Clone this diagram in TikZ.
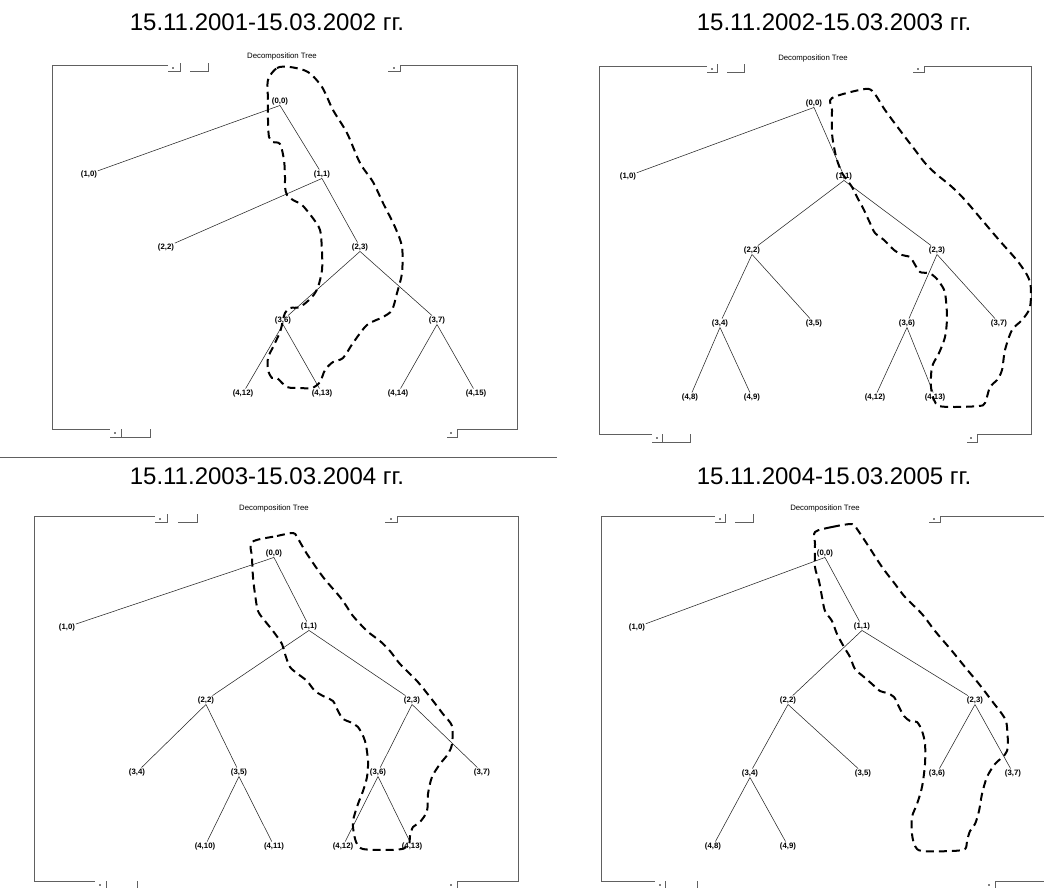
\documentclass[tikz,border=0pt]{standalone}
\usepackage{fontspec}
\setmainfont{Liberation Sans}

\begin{document}
\begin{tikzpicture}[x=1pt, y=-1pt,
  ttl/.style={font=\fontsize{24}{28}\selectfont},
  hdr/.style={font=\fontsize{7.8}{9}\selectfont},
  lbl/.style={font=\fontsize{7.8}{9}\selectfont\bfseries, inner sep=0.6pt},
  br/.style={line width=0.55pt, black!85},
  frm/.style={line width=0.9pt, gray!75!black},
  cut/.style={line width=2pt, dash pattern=on 8pt off 5pt, line join=round}]
  \clip (0,0) rectangle (1044,888);

  % Separator
  \draw[frm] (0,457) -- (557,457);

  % --- PANEL 1: 2001-2002 ---
  \node[ttl] at (267,22) {15.11.2001-15.03.2002 гг.};
  \node[hdr] at (282,56) {Decomposition Tree};
  % Frame
  \draw[frm] (168,65) -- (52,65) -- (52,429) -- (110,429);
  \draw[frm] (168,71) -- (180,71) -- (180,63);
  \draw[frm] (190,71) -- (208,71) -- (208,63);
  \draw[frm] (388,71) -- (400,71) -- (400,65) -- (517,65) -- (517,429) -- (457,429) -- (457,437) -- (447,437);
  \draw[frm] (110,437) -- (121,437) -- (121,429);
  \draw[frm] (121,437) -- (150,437) -- (150,429);
  \fill[black] (173,68) circle (0.9) (394,68) circle (0.9) (115,433) circle (0.9) (451,433) circle (0.9);
  % Nodes
  \node[lbl] (a00) at (280,101) {(0,0)};
  \node[lbl] (a10) at (89,174) {(1,0)};
  \node[lbl] (a11) at (322,174) {(1,1)};
  \node[lbl] (a22) at (166,247) {(2,2)};
  \node[lbl] (a23) at (360,247) {(2,3)};
  \node[lbl] (a36) at (283,320) {(3,6)};
  \node[lbl] (a37) at (437,320) {(3,7)};
  \node[lbl] (a412) at (243,393) {(4,12)};
  \node[lbl] (a413) at (322,393) {(4,13)};
  \node[lbl] (a414) at (398,393) {(4,14)};
  \node[lbl] (a415) at (476,393) {(4,15)};
  \draw[br] (a00.south) -- (a10) (a00.south) -- (a11) (a11.south) -- (a22) (a11.south) -- (a23)
    (a23.south) -- (a36) (a23.south) -- (a37) (a36.south) -- (a412) (a36.south) -- (a413)
    (a37.south) -- (a414) (a37.south) -- (a415);
  % Selected branch
  \draw[cut] plot[smooth cycle] coordinates {(268,80) (277,68) (290,67) (308,72) (322,87) (333,110)
    (347,133) (360,163) (373,182) (383,203) (395,227) (402,247) (402,273) (397,293) (392,310)
    (383,317) (367,325) (353,343) (343,358) (333,362) (325,370) (320,382) (312,388) (300,388)
    (287,387) (277,378) (272,378) (268,370) (268,358) (273,347) (280,332) (283,320) (285,313)
    (290,308) (300,307) (312,297) (318,287) (322,270) (322,252) (320,230) (312,217) (302,205)
    (293,200) (287,195) (285,187) (285,177) (284,160) (280,144) (273,142) (269,137) (268,120) (268,100)};

  % --- PANEL 2: 2002-2003 ---
  \node[ttl] at (834,22) {15.11.2002-15.03.2003 гг.};
  \node[hdr] at (813,58) {Decomposition Tree};
  % Frame
  \draw[frm] (707,66) -- (599,66) -- (599,434) -- (652,434);
  \draw[frm] (707,72) -- (717,72) -- (717,64);
  \draw[frm] (727,72) -- (744,72) -- (744,64);
  \draw[frm] (913,72) -- (924,72) -- (924,66) -- (1031,66) -- (1031,434) -- (977,434) -- (977,442) -- (967,442);
  \draw[frm] (652,442) -- (662,442) -- (662,434);
  \draw[frm] (662,442) -- (690,442) -- (690,434);
  \fill[black] (712,69) circle (0.9) (918,69) circle (0.9) (657,438) circle (0.9) (971,438) circle (0.9);
  % Nodes
  \node[lbl] (b00) at (814,103) {(0,0)};
  \node[lbl] (b10) at (628,176) {(1,0)};
  \node[lbl] (b11) at (844,176) {(1,1)};
  \node[lbl] (b22) at (752,250) {(2,2)};
  \node[lbl] (b23) at (937,250) {(2,3)};
  \node[lbl] (b34) at (720,323) {(3,4)};
  \node[lbl] (b35) at (814,323) {(3,5)};
  \node[lbl] (b36) at (907,323) {(3,6)};
  \node[lbl] (b37) at (999,323) {(3,7)};
  \node[lbl] (b48) at (690,397) {(4,8)};
  \node[lbl] (b49) at (752,397) {(4,9)};
  \node[lbl] (b412) at (875,397) {(4,12)};
  \node[lbl] (b413) at (935,397) {(4,13)};
  \draw[br] (b00.south) -- (b10) (b00.south) -- (b11) (b11.south) -- (b22) (b11.south) -- (b23)
    (b22.south) -- (b34) (b22.south) -- (b35) (b23.south) -- (b36) (b23.south) -- (b37)
    (b34.south) -- (b48) (b34.south) -- (b49) (b36.south) -- (b412) (b36.south) -- (b413);
  % Selected branch
  \draw[cut] plot[smooth cycle] coordinates {(832,98) (865,89) (874,93) (885,110) (902,133) (915,150)
    (925,163) (935,173) (952,187) (965,200) (982,220) (999,240) (1019,263) (1030,282) (1030,307)
    (1022,320) (1012,330) (1005,350) (1002,370) (997,380) (990,387) (985,403) (979,406) (955,407)
    (939,406) (934,400) (931,387) (932,367) (939,353) (945,337) (947,317) (945,293) (940,283)
    (935,277) (929,273) (920,272) (914,263) (910,257) (902,255) (894,250) (884,240) (875,233)
    (870,223) (864,210) (857,197) (852,187) (847,180) (842,173) (837,160) (834,147) (832,133) (832,110)};

  % --- PANEL 3: 2003-2004 ---
  \node[ttl] at (267,476) {15.11.2003-15.03.2004 гг.};
  \node[hdr] at (274,508) {Decomposition Tree};
  % Frame
  \draw[frm] (155,516) -- (34,516) -- (34,881) -- (95,881);
  \draw[frm] (155,522) -- (167,522) -- (167,514);
  \draw[frm] (178,522) -- (197,522) -- (197,514);
  \draw[frm] (385,522) -- (397,522) -- (397,516) -- (518,516) -- (518,881) -- (457,881) -- (457,889) -- (447,889);
  \draw[frm] (95,889) -- (106,889) -- (106,881);
  \draw[frm] (106,889) -- (137,889) -- (137,881);
  \fill[black] (160,519) circle (0.9) (391,519) circle (0.9) (100,885) circle (0.9) (451,885) circle (0.9);
  % Nodes
  \node[lbl] (c00) at (274,553) {(0,0)};
  \node[lbl] (c10) at (67,627) {(1,0)};
  \node[lbl] (c11) at (309,626) {(1,1)};
  \node[lbl] (c22) at (206,700) {(2,2)};
  \node[lbl] (c23) at (412,700) {(2,3)};
  \node[lbl] (c34) at (137,772) {(3,4)};
  \node[lbl] (c35) at (239,772) {(3,5)};
  \node[lbl] (c36) at (378,772) {(3,6)};
  \node[lbl] (c37) at (482,772) {(3,7)};
  \node[lbl] (c410) at (205,846) {(4,10)};
  \node[lbl] (c411) at (274,846) {(4,11)};
  \node[lbl] (c412) at (343,846) {(4,12)};
  \node[lbl] (c413) at (412,846) {(4,13)};
  \draw[br] (c00.south) -- (c10) (c00.south) -- (c11) (c11.south) -- (c22) (c11.south) -- (c23)
    (c22.south) -- (c34) (c22.south) -- (c35) (c23.south) -- (c36) (c23.south) -- (c37)
    (c35.south) -- (c410) (c35.south) -- (c411) (c36.south) -- (c412) (c36.south) -- (c413);
  % Selected branch
  \draw[cut] plot[smooth cycle] coordinates {(252,542) (277,536) (293,533) (297,537) (307,554) (323,577)
    (340,597) (347,607) (353,616) (367,631) (380,641) (390,651) (400,664) (417,681) (430,697)
    (443,714) (452,726) (452,744) (448,754) (440,764) (432,777) (428,794) (427,811) (420,822)
    (413,827) (410,836) (409,844) (402,849) (383,850) (363,849) (357,844) (354,834) (353,821)
    (358,804) (363,791) (367,777) (368,761) (365,741) (358,727) (350,722) (343,719) (338,711)
    (333,701) (325,697) (315,691) (307,681) (298,674) (290,667) (285,654) (282,644) (273,631)
    (265,621) (258,611) (255,594) (253,577) (252,557)};

  % --- PANEL 4: 2004-2005 ---
  \node[ttl] at (834,476) {15.11.2004-15.03.2005 гг.};
  \node[hdr] at (825,508) {Decomposition Tree};
  % Frame
  \draw[frm] (715,516) -- (601,516) -- (601,881) -- (655,881);
  \draw[frm] (715,522) -- (725,522) -- (725,514);
  \draw[frm] (735,522) -- (753,522) -- (753,514);
  \draw[frm] (929,522) -- (940,522) -- (940,516) -- (1050,516);
  \draw[frm] (1050,881) -- (995,881) -- (995,889) -- (985,889);
  \draw[frm] (655,889) -- (665,889) -- (665,881);
  \draw[frm] (665,889) -- (697,889) -- (697,881);
  \fill[black] (720,519) circle (0.9) (934,519) circle (0.9) (660,885) circle (0.9) (989,885) circle (0.9);
  % Nodes
  \node[lbl] (d00) at (825,553) {(0,0)};
  \node[lbl] (d10) at (637,627) {(1,0)};
  \node[lbl] (d11) at (862,626) {(1,1)};
  \node[lbl] (d22) at (788,700) {(2,2)};
  \node[lbl] (d23) at (975,700) {(2,3)};
  \node[lbl] (d34) at (750,773) {(3,4)};
  \node[lbl] (d35) at (863,773) {(3,5)};
  \node[lbl] (d36) at (937,773) {(3,6)};
  \node[lbl] (d37) at (1013,773) {(3,7)};
  \node[lbl] (d48) at (713,846) {(4,8)};
  \node[lbl] (d49) at (788,846) {(4,9)};
  \draw[br] (d00.south) -- (d10) (d00.south) -- (d11) (d11.south) -- (d22) (d11.south) -- (d23)
    (d22.south) -- (d34) (d22.south) -- (d35) (d23.south) -- (d36) (d23.south) -- (d37)
    (d34.south) -- (d48) (d34.south) -- (d49);
  % Selected branch
  \draw[cut] plot[smooth cycle] coordinates {(815,532) (832,527) (852,524) (857,529) (869,547) (882,567)
    (895,584) (905,597) (922,614) (935,631) (952,651) (965,667) (979,684) (992,701) (1004,717)
    (1007,727) (1007,751) (995,764) (987,777) (982,794) (979,811) (975,824) (970,831) (967,841)
    (965,849) (952,851) (922,851) (915,846) (912,834) (912,817) (917,804) (922,787) (925,764)
    (925,744) (922,731) (917,722) (910,721) (904,716) (899,707) (894,697) (887,693) (880,691)
    (872,684) (864,677) (855,669) (850,657) (844,647) (837,634) (832,621) (825,611) (822,597)
    (819,581) (815,567) (815,544)};
\end{tikzpicture}
\end{document}
